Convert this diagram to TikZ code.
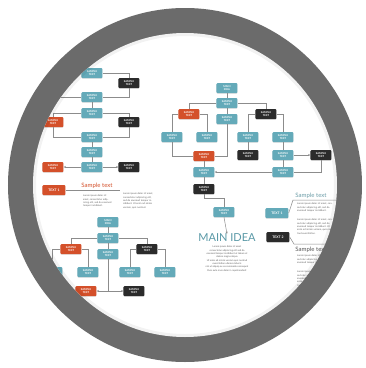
\documentclass[tikz,border=0pt]{standalone}
\usepackage{fontspec}
\setmainfont{Lato}
\usetikzlibrary{arrows.meta,shadows}

\definecolor{boxteal}{HTML}{64AAB9}
\definecolor{boxred}{HTML}{D4502A}
\definecolor{boxdark}{HTML}{2B2B2B}
\definecolor{linegray}{HTML}{8C8C8C}
\definecolor{ringgray}{HTML}{6B6B6B}
\definecolor{paragray}{HTML}{5E5E5E}

\newcommand\boxfont{\fontsize{2.6}{3}\selectfont\bfseries}
\newcommand\parafont{\fontsize{2.4}{3.3}\selectfont}
\newcommand\lorem{Lorem ipsum dolor sit amet, consectetur adipiscing elit, sed do eiusmod tempor incididunt.}

\pgfdeclareradialshading{vignette}{\pgfpoint{0bp}{0bp}}{color(0bp)=(white); color(32bp)=(white); color(47bp)=(black!10); color(50bp)=(black!18)}

\tikzset{
  tealbox/.style={fill=boxteal, rounded corners=1pt, minimum width=21pt, minimum height=10pt,
    inner sep=0pt, text=white, font=\boxfont, align=center,
    drop shadow={opacity=0.2, shadow xshift=0pt, shadow yshift=-0.8pt}},
  redbox/.style={tealbox, fill=boxred},
  darkbox/.style={tealbox, fill=boxdark},
  link/.style={draw=linegray, line width=0.5pt},
  arr/.style={link, -{Stealth[length=2.2pt, width=2pt]}},
  para/.style={text=paragray, font=\parafont, align=left, inner sep=0pt, text width=#1},
  para/.default=30pt,
}

\begin{document}
\begin{tikzpicture}[x=1pt, y=-1pt]
\useasboundingbox (0,0) rectangle (366,368);
\fill[white] (0,0) rectangle (366,368);

%--- RING ---
\fill[ringgray] (185,185) circle [radius=177pt];
\shade[shading=vignette] (185,185) circle [radius=152pt];

\begin{scope}
  \clip (185,185) circle [radius=152pt];

  %--- LEFT CHART ---
  \node[tealbox] (l1) at (92,73) {SAMPLE\\TEXT};
  \node[darkbox] (l2) at (129,83) {SAMPLE\\TEXT};
  \node[tealbox] (l3) at (92,97) {SAMPLE\\TEXT};
  \node[tealbox] (l4) at (92,113) {SAMPLE\\TEXT};
  \node[redbox] (l5) at (53,122) {SAMPLE\\TEXT};
  \node[darkbox] (l6) at (129,122) {SAMPLE\\TEXT};
  \node[tealbox] (l7) at (92,137) {SAMPLE\\TEXT};
  \node[tealbox] (l8) at (92,152) {SAMPLE\\TEXT};
  \node[tealbox] (l9) at (92,167) {SAMPLE\\TEXT};
  \node[redbox] (l10) at (53,167) {SAMPLE\\TEXT};
  \node[darkbox] (l11) at (129,167) {SAMPLE\\TEXT};
  \coordinate (lin0) at (20,73);
  \coordinate (lin1) at (20,97);

  \draw[link] (lin0) -- (l1.west);
  \draw[link] (l1.east) -| (l2.north);
  \draw[link] (l2.south) |- (l3.east);
  \draw[link] (lin1) -- (l3.west);
  \draw[link] (l3) -- (l4);
  \draw[link] (l4.west) -| (l5.north);
  \draw[link] (l4.east) -| (l6.north);
  \draw[link] (l5.south) |- (l7.west);
  \draw[link] (l6.south) |- (l7.east);
  \draw[link] (l7) -- (l8);
  \draw[link] (l8) -- (l9);
  \draw[arr] (l9) -- (l10);
  \draw[arr] (l9) -- (l11);

  % text 1 block, left
  \node[redbox, minimum width=23pt, font=\fontsize{3.4}{4}\selectfont\bfseries] (lt1) at (54,190) {TEXT 1};
  \coordinate (lt1end) at (120,190);
  \draw[link] (lt1.east) -- (lt1end);
  \node[text=boxred, font=\fontsize{6}{7}\selectfont, inner sep=0pt] (ls1) at (97,185.5) {Sample text};
  \node[para=29pt, anchor=north west] (lp1) at (83,195) {\lorem};
  \node[para=33pt, anchor=north west] (lp2) at (123,193) {\lorem\ Ut enim ad minim veniam, quis nostrud.};

  %--- RIGHT CHART ---
  \node[tealbox] (r1) at (227,88) {MAIN\\IDEA};
  \node[tealbox] (r2) at (227,103) {SAMPLE\\TEXT};
  \node[tealbox] (r3) at (227,119) {SAMPLE\\TEXT};
  \node[redbox] (r4) at (189,114) {SAMPLE\\TEXT};
  \node[darkbox] (r5) at (266,114) {SAMPLE\\TEXT};
  \node[tealbox] (r6) at (172,137) {SAMPLE\\TEXT};
  \node[tealbox] (r7) at (207,137) {SAMPLE\\TEXT};
  \node[tealbox] (r8) at (248,137) {SAMPLE\\TEXT};
  \node[tealbox] (r9) at (283,137) {SAMPLE\\TEXT};
  \node[darkbox] (r10) at (248,155) {SAMPLE\\TEXT};
  \node[tealbox] (r11) at (283,155) {SAMPLE\\TEXT};
  \node[darkbox] (r12) at (321,155) {SAMPLE\\TEXT};
  \node[tealbox] (r13) at (283,172) {SAMPLE\\TEXT};
  \node[redbox] (r14) at (204,156) {SAMPLE\\TEXT};
  \node[tealbox] (r15) at (204,172) {SAMPLE\\TEXT};
  \node[darkbox] (r16) at (204,189) {SAMPLE\\TEXT};
  \node[tealbox] (r17) at (224,212) {SAMPLE\\TEXT};

  \draw[link] (r1) -- (r2);
  \draw[link] (r2) -- (r3);
  \draw[link] (r2.west) -| (r4.north);
  \draw[link] (r2.east) -| (r5.north);
  \draw[link] (r4.west) -| (r6.north);
  \draw[link] (r4.east) -| (r7.north);
  \draw[link] (r5.west) -| (r8.north);
  \draw[link] (r5.east) -| (r9.north);
  \draw[link] (r8) -- (r10);
  \draw[link] (r9) -- (r11);
  \draw[arr] (r11) -- (r12);
  \draw[link] (r11) -- (r13);
  \draw[link] (r12.south) |- (r13.east);
  \draw[arr] (r13.west) -- (r15.east);
  \draw[link] (r6.south) |- (r14.west);
  \draw[link] (r3.south) |- (r14.east);
  \draw[link] (r14) -- (r15);
  \draw[link] (r15) -- (r16);
  \draw[link] (r16.south) -- ++(0,4) -| (r17.north);

  % main idea
  \node[text=boxteal!90!black, font=\fontsize{11}{12}\selectfont, inner sep=0pt] (main) at (227,238) {MAIN IDEA};
  \draw[arr] (r17.south) -- (main.north);
  \node[text=paragray, font=\parafont, align=center, inner sep=0pt, anchor=north] (mainp) at (227,246)
    {Lorem ipsum dolor sit amet\\ consectetur adipiscing elit sed do\\ eiusmod tempor incididunt ut labore et\\
     dolore magna aliqua\\ Ut enim ad minim veniam quis nostrud\\ exercitation ullamco laboris\\
     nisi ut aliquip ex ea commodo consequat\\ Duis aute irure dolor in reprehenderit};

  % text 1 and text 2 blocks, right
  \node[tealbox, minimum width=23pt, font=\fontsize{3.4}{4}\selectfont\bfseries] (rt1) at (277,213) {TEXT 1};
  \node[darkbox, minimum width=23pt, font=\fontsize{3.4}{4}\selectfont\bfseries] (rt2) at (278,237) {TEXT 2};
  \coordinate (rt1bend) at (293,200);
  \coordinate (rt1end) at (338,200);
  \coordinate (rt2bend) at (294,244);
  \coordinate (rt2end) at (338,244);
  \draw[link] (rt1.east) -- (rt1bend) -- (rt1end);
  \draw[link] (rt2.east) -- (rt2bend) -- (rt2end);
  \node[text=boxteal!70!gray, font=\fontsize{6}{7}\selectfont, inner sep=0pt] (rs1) at (311,195.5) {Sample text};
  \node[text=boxdark!80, font=\fontsize{6}{7}\selectfont, inner sep=0pt] (rs2) at (311,249.5) {Sample text};
  \node[para=36pt, anchor=north west] (rp1) at (297,203) {\lorem};
  \node[para=36pt, anchor=north west] (rp2) at (297,219) {\lorem\ Ut enim ad minim veniam, quis nostrud exercitation.};
  \node[para=38pt, anchor=north west] (rp3) at (297,255) {\lorem};
  \node[para=38pt, anchor=north west] (rp4) at (297,271) {\lorem\ Ut enim ad minim veniam, quis nostrud exercitation.};

  %--- BOTTOM CHART ---
  \node[tealbox] (b1) at (108,222) {MAIN\\IDEA};
  \node[tealbox] (b2) at (108,238) {SAMPLE\\TEXT};
  \node[tealbox] (b3) at (108,254) {SAMPLE\\TEXT};
  \node[redbox] (b4) at (71,249) {SAMPLE\\TEXT};
  \node[darkbox] (b5) at (147,249) {SAMPLE\\TEXT};
  \node[tealbox] (b6) at (52,272) {SAMPLE\\TEXT};
  \node[tealbox] (b7) at (88,272) {SAMPLE\\TEXT};
  \node[tealbox] (b8) at (130,272) {SAMPLE\\TEXT};
  \node[tealbox] (b9) at (165,272) {SAMPLE\\TEXT};
  \node[redbox] (b10) at (86,291) {SAMPLE\\TEXT};
  \node[darkbox] (b11) at (134,291) {SAMPLE\\TEXT};
  \coordinate (bjoin) at (108,291);

  \draw[link] (b1) -- (b2);
  \draw[link] (b2) -- (b3);
  \draw[link] (b2.west) -| (b4.north);
  \draw[link] (b2.east) -| (b5.north);
  \draw[link] (b4.west) -| (b6.north);
  \draw[link] (b4.east) -| (b7.north);
  \draw[link] (b5.west) -| (b8.north);
  \draw[link] (b5.east) -| (b9.north);
  \draw[link] (b3.south) -- (bjoin);
  \draw[arr] (bjoin) -- (b10.east);
  \draw[arr] (bjoin) -- (b11.west);

  % soft shadow along the inner edge of the ring
  \draw[black, opacity=0.05, line width=4pt] (185,185) circle [radius=151pt];
\end{scope}

\end{tikzpicture}
\end{document}
